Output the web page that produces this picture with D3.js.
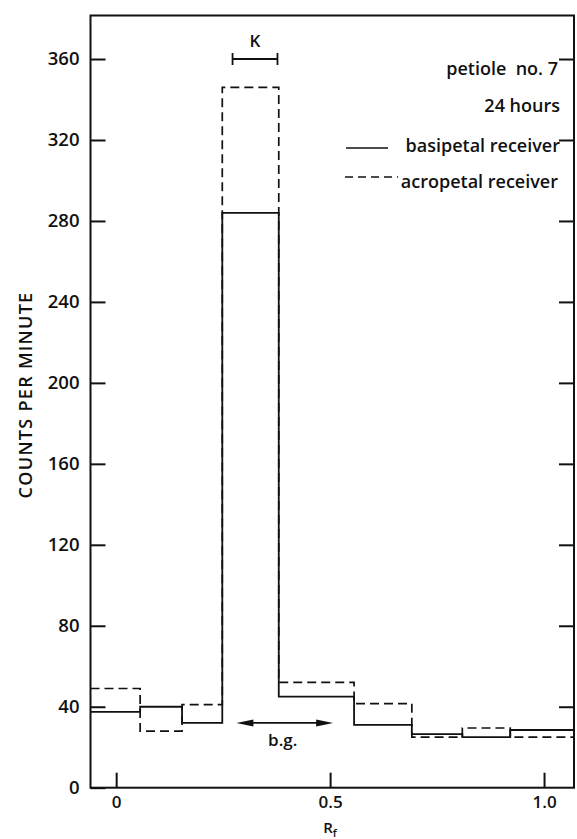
<!DOCTYPE html>
<html>
<head>
<meta charset="utf-8">
<script src="https://cdn.jsdelivr.net/npm/d3@7"></script>
<style>
  html, body { margin: 0; padding: 0; background: #fff; }
  svg { display: block; }
  text { font-family: "Open Sans", Lato, sans-serif; font-weight: 600; fill: #111; }
</style>
</head>
<body>
<svg id="chart" width="577" height="839"></svg>
<script>
// ---- data ----
const binEdges = [-0.06, 0.056, 0.154, 0.248, 0.38, 0.556, 0.691, 0.809, 0.921, 1.07];
const basipetal = [37.5, 40, 32, 284, 45, 31, 26.5, 25, 28.5];
const acropetal = [49, 28, 41, 346, 52, 41.5, 25, 29.5, 25];
const yTicks = [0, 40, 80, 120, 160, 200, 240, 280, 320, 360];
const xTicks = [0, 0.5, 1.0];
const xTickLabels = ["0", "0.5", "1.0"];
const legendLines = ["petiole  no. 7", "24 hours"];
const seriesNames = ["basipetal receiver", "acropetal receiver"];
const kBracket = [0.272, 0.377];
const kLevel = 360;
const bgArrow = [0.281, 0.507];
const bgLevel = 32;
const yMax = 381.5;
const xDomain = [-0.06, 1.07];

// ---- layout ----
const svg = d3.select("#chart");
const mLeft = 90.5, mRight = 574, mTop = 15.5, mBottom = 787.7;
const x = d3.scaleLinear().domain(xDomain).range([mLeft, mRight]);
const y = d3.scaleLinear().domain([0, yMax]).range([mBottom, mTop]);
const ink = "#111";
const FONT = '"Open Sans", Lato, sans-serif';

// frame
svg.append("rect")
  .attr("x", mLeft).attr("y", mTop)
  .attr("width", mRight - mLeft).attr("height", mBottom - mTop)
  .attr("fill", "none").attr("stroke", ink).attr("stroke-width", 2);

// left axis
const gL = svg.append("g").attr("transform", `translate(${mLeft},0)`)
  .call(d3.axisLeft(y).tickValues(yTicks).tickSize(-15).tickPadding(11).tickFormat(d3.format("d")));
gL.select(".domain").remove();
gL.selectAll(".tick line").attr("stroke", ink).attr("stroke-width", 2);
gL.selectAll(".tick text").attr("font-size", 18.5).attr("font-family", FONT).attr("font-weight", 600).attr("fill", ink);

// right axis (ticks only)
const gR = svg.append("g").attr("transform", `translate(${mRight},0)`)
  .call(d3.axisRight(y).tickValues(yTicks.filter(d => d > 0)).tickSize(-15).tickFormat(""));
gR.select(".domain").remove();
gR.selectAll(".tick line").attr("stroke", ink).attr("stroke-width", 2);

// bottom axis
const gB = svg.append("g").attr("transform", `translate(0,${mBottom})`)
  .call(d3.axisBottom(x).tickValues(xTicks).tickSize(-15).tickPadding(8)
    .tickFormat((d, i) => xTickLabels[i]));
gB.select(".domain").remove();
gB.selectAll(".tick line").attr("stroke", ink).attr("stroke-width", 2);
gB.selectAll(".tick text").attr("font-size", 17).attr("font-family", FONT).attr("font-weight", 600).attr("fill", ink);

// step outlines
function stepPts(vals) {
  const pts = vals.map((v, i) => [binEdges[i], v]);
  pts.push([binEdges[vals.length], vals[vals.length - 1]]);
  return pts;
}
const line = d3.line().x(d => x(d[0])).y(d => y(d[1])).curve(d3.curveStepAfter);

svg.append("path").datum(stepPts(acropetal))
  .attr("d", line).attr("fill", "none").attr("stroke", ink)
  .attr("stroke-width", 1.7).attr("stroke-dasharray", "9,5");
svg.append("path").datum(stepPts(basipetal))
  .attr("d", line).attr("fill", "none").attr("stroke", ink)
  .attr("stroke-width", 1.8);

// K bracket
const kY = y(kLevel);
svg.append("line").attr("x1", x(kBracket[0])).attr("x2", x(kBracket[1]))
  .attr("y1", kY).attr("y2", kY).attr("stroke", ink).attr("stroke-width", 1.8);
kBracket.forEach(v => svg.append("line").attr("x1", x(v)).attr("x2", x(v))
  .attr("y1", kY - 6).attr("y2", kY + 6).attr("stroke", ink).attr("stroke-width", 1.8));
svg.append("text").attr("x", (x(kBracket[0]) + x(kBracket[1])) / 2).attr("y", kY - 12)
  .attr("text-anchor", "middle").attr("font-size", 17).attr("font-weight", 700).text("K");

// b.g. double arrow
const bY = y(bgLevel);
const ax0 = x(bgArrow[0]), ax1 = x(bgArrow[1]);
svg.append("line").attr("x1", ax0 + 10).attr("x2", ax1 - 10).attr("y1", bY).attr("y2", bY)
  .attr("stroke", ink).attr("stroke-width", 1.8);
svg.append("path").attr("d", `M${ax0},${bY} L${ax0 + 17},${bY - 3.5} L${ax0 + 17},${bY + 3.5} Z`).attr("fill", ink);
svg.append("path").attr("d", `M${ax1},${bY} L${ax1 - 17},${bY - 3.5} L${ax1 - 17},${bY + 3.5} Z`).attr("fill", ink);
svg.append("text").attr("x", (ax0 + ax1) / 2 - 2).attr("y", bY + 23)
  .attr("text-anchor", "middle").attr("font-size", 17).attr("font-weight", 700).text("b.g.");

// legend / annotation text
const legX = 560;
const legFS = 18;
svg.append("text").attr("x", legX - 2).attr("y", 75).attr("text-anchor", "end")
  .attr("font-size", legFS).attr("xml:space", "preserve").text(legendLines[0]);
svg.append("text").attr("x", legX).attr("y", 112).attr("text-anchor", "end")
  .attr("font-size", legFS).text(legendLines[1]);
svg.append("text").attr("x", legX).attr("y", 152).attr("text-anchor", "end")
  .attr("font-size", legFS).text(seriesNames[0]);
svg.append("text").attr("x", legX - 2).attr("y", 188).attr("text-anchor", "end")
  .attr("font-size", legFS).text(seriesNames[1]);
svg.append("line").attr("x1", 346).attr("x2", 388).attr("y1", 148).attr("y2", 148)
  .attr("stroke", ink).attr("stroke-width", 1.5);
svg.append("line").attr("x1", 345).attr("x2", 398).attr("y1", 177).attr("y2", 177)
  .attr("stroke", ink).attr("stroke-width", 1.5).attr("stroke-dasharray", "8,5");

// axis titles
svg.append("text").attr("transform", "translate(25,395) rotate(-90)")
  .attr("text-anchor", "middle").attr("dominant-baseline", "central")
  .attr("font-size", 18).attr("letter-spacing", 1.3).text("COUNTS PER MINUTE");
const rt = svg.append("text").attr("x", 330).attr("y", 833).attr("text-anchor", "middle")
  .attr("font-size", 15).attr("font-weight", 700);
rt.append("tspan").text("R");
rt.append("tspan").attr("font-size", 11).attr("dy", 4).text("f");
</script>
</body>
</html>
